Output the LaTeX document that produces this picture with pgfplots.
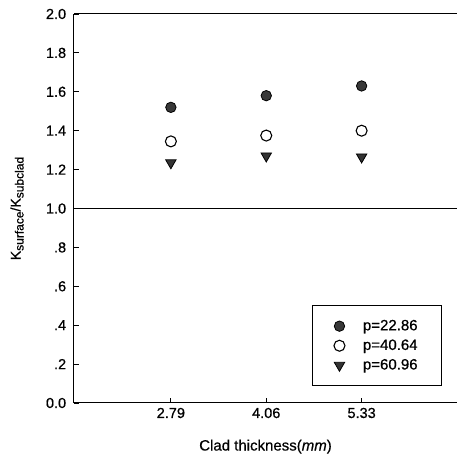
\documentclass[border=0pt]{standalone}
\usepackage{fontspec}
\setmainfont{Liberation Sans}[FakeBold=0.6]
\usepackage{pgfplots}
\pgfplotsset{compat=1.18}

\begin{document}
\fontsize{14}{16}\selectfont
\begin{tikzpicture}
\begin{axis}[
 scale only axis, width=383pt, height=389pt,
 xmin=1.5, xmax=6.6, ymin=0, ymax=2,
 axis x line*=bottom, axis y line*=left,
 axis line style={line width=1pt,-},
 xtick={2.79,4.06,5.33}, xticklabels={2.79,4.06,5.33},
 ytick={0,0.2,0.4,0.6,0.8,1.0,1.2,1.4,1.6,1.8,2.0},
 yticklabels={0.0,.2,.4,.6,.8,1.0,1.2,1.4,1.6,1.8,2.0},
 tick align=inside, major tick length=5pt,
 tick style={black, line width=0.8pt},
 tick label style={font=\fontsize{14.5}{16}\selectfont},
 yticklabel style={xshift=-3pt},
 xlabel={Clad thickness(\textit{mm})},
 ylabel={K{\fontsize{12}{13}\selectfont\raisebox{-3pt}{surface}}/K{\fontsize{12}{13}\selectfont\raisebox{-3pt}{subclad}}},
 label style={font=\fontsize{15}{17}\selectfont},
 xlabel style={yshift=-12pt},
 every axis y label/.style={at={(rel axis cs:0,0.5)}, xshift=-57pt, rotate=90, anchor=center},
 clip=false,
 legend cell align=left,
 legend style={at={(1,0)}, anchor=south east, xshift=-15pt, yshift=17pt,
   draw=black, line width=0.8pt, inner xsep=22pt, inner ysep=12pt,
   row sep=3pt, font=\fontsize{15}{17}\selectfont,
   /tikz/every odd column/.append style={column sep=16pt}},
]
\coordinate (bl) at (rel axis cs:0,0);
\coordinate (tr) at (rel axis cs:1,1);
\addplot[black, line width=1pt, forget plot] coordinates {(1.5,1) (6.6,1)};
\addplot[black, line width=1pt, forget plot] coordinates {(1.5,2) (6.6,2)};

\addplot[only marks, mark=*, mark size=5.2pt, mark options={fill=black!78, draw=black, line width=0.8pt}]
 coordinates {(2.79,1.52) (4.06,1.58) (5.33,1.63)};
\addlegendentry{p=22.86}
\addplot[only marks, mark=o, mark size=5.5pt, mark options={draw=black, line width=1.1pt}]
 coordinates {(2.79,1.345) (4.06,1.375) (5.33,1.40)};
\addlegendentry{p=40.64}
\addplot[only marks, mark=triangle*, mark size=6pt, mark options={rotate=180, fill=black!80, draw=black, line width=0.8pt}]
 coordinates {(2.79,1.235) (4.06,1.27) (5.33,1.265)};
\addlegendentry{p=60.96}
\end{axis}
\pgfresetboundingbox
\path[use as bounding box] ([xshift=-74pt,yshift=-61pt]bl) rectangle ([yshift=14pt]tr);
\end{tikzpicture}
\end{document}
